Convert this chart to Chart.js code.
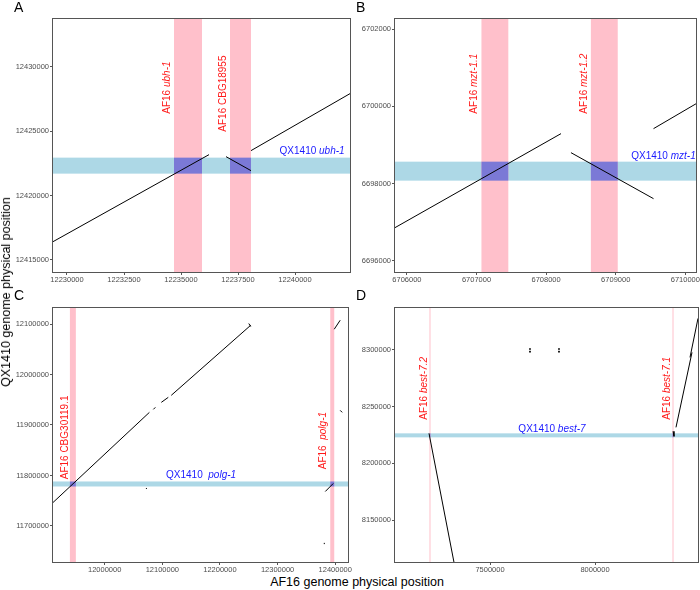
<!DOCTYPE html>
<html>
<head>
<meta charset="utf-8">
<title>Dot plots</title>
<script src="https://cdn.jsdelivr.net/npm/chart.js@4.4.1/dist/chart.umd.min.js"></script>
<style>
  body { margin: 0; background: #fff; font-family: "Liberation Sans", Arial, sans-serif; }
  #wrap { position: relative; width: 700px; height: 590px; }
  .pane { position: absolute; }
  .tag { position: absolute; font-size: 14px; color: #000; }
  .ytitle { position: absolute; left: 6px; top: 292px; font-size: 12.5px; color: #000; white-space: nowrap;
            transform: translate(-50%, -50%) rotate(-90deg); }
  .xtitle { position: absolute; left: 357px; top: 582px; font-size: 12.5px; color: #000; white-space: nowrap;
            transform: translate(-50%, -50%); }
</style>
</head>
<body>
<div id="wrap">
  <div class="pane" style="left:0;top:0;width:352px;height:285px"><canvas id="pa"></canvas></div>
  <div class="pane" style="left:352px;top:0;width:348px;height:285px"><canvas id="pb"></canvas></div>
  <div class="pane" style="left:0;top:290px;width:352px;height:285px"><canvas id="pc"></canvas></div>
  <div class="pane" style="left:352px;top:290px;width:348px;height:285px"><canvas id="pd"></canvas></div>
  <div class="tag" style="left:14px;top:-1px">A</div>
  <div class="tag" style="left:356px;top:-1px">B</div>
  <div class="tag" style="left:14px;top:287px">C</div>
  <div class="tag" style="left:356px;top:287px">D</div>
  <div class="ytitle">QX1410 genome physical position</div>
  <div class="xtitle">AF16 genome physical position</div>
</div>
<script>
// ---- panel A: ubh-1
var aXTicks = [12230000, 12232500, 12235000, 12237500, 12240000];
var aYTicks = [12415000, 12420000, 12425000, 12430000];
var aPink = [[12234693, 12235921], [12237149, 12238070]];
var aBlue = [12421711, 12422955];
var aSegs = [
  [12229386, 12416423, 12236228, 12423188],
  [12236974, 12423033, 12238070, 12421944],
  [12238070, 12423500, 12242412, 12427930]
];

// ---- panel B: mzt-1
var bXTicks = [6706000, 6707000, 6708000, 6709000, 6710000];
var bYTicks = [6696000, 6698000, 6700000, 6702000];
var bPink = [[6707071, 6707457], [6708643, 6709029]];
var bBlue = [6698078, 6698569];
var bSegs = [
  [6705829, 6696862, 6708214, 6699294],
  [6708357, 6698802, 6709543, 6697612],
  [6709543, 6699423, 6710157, 6700070]
];

// ---- panel C: polg-1
var cXTicks = [12000000, 12100000, 12200000, 12300000, 12400000];
var cYTicks = [11700000, 11800000, 11900000, 12000000, 12100000];
var cPink = [[11939655, 11950000], [12391379, 12398275]];
var cBlue = [11778175, 11788095];
var cSegs = [
  [11910345, 11746429, 12077586, 11925000],
  [12084483, 11930952, 12087931, 11934921],
  [12098276, 11944841, 12110345, 11954762],
  [12115517, 11958730, 12253448, 12097619],
  [12250000, 12101000, 12253448, 12095000],
  [12398276, 12089683, 12408621, 12107540],
  [12408621, 11928968, 12412069, 11925000],
  [12382759, 11768254, 12396552, 11784127],
  [12381034, 11664000, 12381034, 11666500],
  [12072414, 11773200, 12072414, 11775200]
];

// ---- panel D: best-7
var dXTicks = [7500000, 8000000];
var dYTicks = [8150000, 8200000, 8250000, 8300000];
var dPink = [[7213000, 7215500], [8370200, 8372700]];
var dBlue = [8222928, 8226455];
var dSegs = [
  [7209524, 8226455, 7328571, 8112698],
  [8371429, 8228219, 8376190, 8223810],
  [8385714, 8231746, 8461905, 8297884],
  [8452381, 8293474, 8490476, 8327866],
  [7690476, 8301411, 7690476, 8300300],
  [7690476, 8299200, 7690476, 8297884],
  [7828571, 8301411, 7828571, 8300300],
  [7828571, 8299200, 7828571, 8297884]
];

var PINK = '#ffc0cb', BLUE = '#add8e6', BOTH = '#7b79d6';
var FONT = '"Liberation Sans", Arial, sans-serif';

function drawParts(ctx, parts, cx, cy, rotate, color) {
  ctx.save();
  ctx.translate(cx, cy);
  if (rotate) ctx.rotate(-Math.PI / 2);
  ctx.fillStyle = color;
  ctx.textBaseline = 'middle';
  ctx.textAlign = 'left';
  var w = 0;
  parts.forEach(function (p) {
    ctx.font = (p[1] ? 'italic ' : '') + '10px ' + FONT;
    w += ctx.measureText(p[0]).width;
  });
  var x = -w / 2;
  parts.forEach(function (p) {
    ctx.font = (p[1] ? 'italic ' : '') + '10px ' + FONT;
    ctx.fillText(p[0], x, 0);
    x += ctx.measureText(p[0]).width;
  });
  ctx.restore();
}

function panelPlugin(cfg) {
  return {
    id: 'panel_' + cfg.id,
    beforeDatasetsDraw: function (chart) {
      var ctx = chart.ctx, a = chart.chartArea, xs = chart.scales.x, ys = chart.scales.y;
      ctx.save();
      ctx.beginPath();
      ctx.rect(a.left, a.top, a.right - a.left, a.bottom - a.top);
      ctx.clip();
      var by0 = ys.getPixelForValue(cfg.blue[1]), by1 = ys.getPixelForValue(cfg.blue[0]);
      ctx.fillStyle = BLUE;
      ctx.fillRect(a.left, by0, a.right - a.left, by1 - by0);
      cfg.pink.forEach(function (b) {
        var p0 = xs.getPixelForValue(b[0]), p1 = xs.getPixelForValue(b[1]);
        if (p1 - p0 < 1) { var c = (p0 + p1) / 2; p0 = c - 0.5; p1 = c + 0.5; }
        ctx.fillStyle = PINK;
        ctx.fillRect(p0, a.top, p1 - p0, a.bottom - a.top);
        ctx.fillStyle = BOTH;
        ctx.fillRect(p0, by0, p1 - p0, by1 - by0);
      });
      ctx.restore();
    },
    afterDatasetsDraw: function (chart) {
      var ctx = chart.ctx, xs = chart.scales.x, ys = chart.scales.y;
      cfg.vLabels.forEach(function (l) {
        drawParts(ctx, l.parts, xs.getPixelForValue(l.x), ys.getPixelForValue(l.y), true, '#ff1a1a');
      });
      var h = cfg.hLabel;
      drawParts(ctx, h.parts, xs.getPixelForValue(h.x), ys.getPixelForValue(h.y), false, '#1a1aff');
    },
    afterDraw: function (chart) {
      var ctx = chart.ctx, a = chart.chartArea;
      ctx.save();
      ctx.strokeStyle = '#555';
      ctx.lineWidth = 1;
      ctx.strokeRect(Math.round(a.left) - 0.5, Math.round(a.top) - 0.5,
        Math.round(a.right - a.left) + 1, Math.round(a.bottom - a.top) + 1);
      ctx.restore();
    }
  };
}

function makePanel(cfg) {
  var datasets = cfg.segs.map(function (s) {
    return {
      data: [{ x: s[0], y: s[1] }, { x: s[2], y: s[3] }],
      showLine: true, borderColor: '#000', borderWidth: 1,
      pointRadius: 0, pointHoverRadius: 0
    };
  });
  function axis(min, max, ticks, fitFn, pad) {
    return {
      type: 'linear', min: min, max: max,
      afterBuildTicks: function (sc) { sc.ticks = ticks.map(function (v) { return { value: v }; }); },
      afterFit: fitFn,
      grid: { display: true, drawOnChartArea: false, drawTicks: true, tickLength: 3, color: '#555' },
      border: { display: false },
      ticks: {
        autoSkip: false, maxRotation: 0, padding: pad, color: '#4d4d4d',
        font: { size: 7.5, family: FONT },
        callback: function (v) { return String(v); }
      }
    };
  }
  new Chart(document.getElementById(cfg.id), {
    type: 'scatter',
    data: { datasets: datasets },
    options: {
      responsive: true, maintainAspectRatio: false, animation: false,
      layout: { padding: { top: cfg.padTop, right: 2, left: 0, bottom: 0 } },
      plugins: { legend: { display: false }, tooltip: { enabled: false } },
      scales: {
        x: axis(cfg.xMin, cfg.xMax, cfg.xTicks, function (sc) { sc.height = 13; }, 0),
        y: axis(cfg.yMin, cfg.yMax, cfg.yTicks, function (sc) { sc.width = cfg.yW; }, 1)
      }
    },
    plugins: [panelPlugin(cfg)]
  });
}

makePanel({
  id: 'pa', padTop: 19, yW: 53,
  xMin: 12229386, xMax: 12242412, yMin: 12414067, yMax: 12433730,
  xTicks: aXTicks, yTicks: aYTicks, pink: aPink, blue: aBlue, segs: aSegs,
  vLabels: [
    { x: 12234386, y: 12428398, parts: [['AF16 ', false], ['ubh-1', true]] },
    { x: 12236842, y: 12427932, parts: [['AF16 CBG18955', false]] }
  ],
  hLabel: { x: 12240750, y: 12423422, parts: [['QX1410 ', false], ['ubh-1', true]] }
});

makePanel({
  id: 'pb', padTop: 19, yW: 43,
  xMin: 6705829, xMax: 6710157, yMin: 6695715, yMax: 6702259,
  xTicks: bXTicks, yTicks: bYTicks, pink: bPink, blue: bBlue, segs: bSegs,
  vLabels: [
    { x: 6706971, y: 6700587, parts: [['AF16 ', false], ['mzt-1.1', true]] },
    { x: 6708543, y: 6700587, parts: [['AF16 ', false], ['mzt-1.2', true]] }
  ],
  hLabel: { x: 6709686, y: 6698699, parts: [['QX1410 ', false], ['mzt-1', true]] }
});

makePanel({
  id: 'pc', padTop: 18, yW: 53,
  xMin: 11910345, xMax: 12422414, yMin: 11628571, yMax: 12131746,
  xTicks: cXTicks, yTicks: cYTicks, pink: cPink, blue: cBlue, segs: cSegs,
  vLabels: [
    { x: 11931034, y: 11875397, parts: [['AF16 CBG30119.1', false]] },
    { x: 12379310, y: 11869048, parts: [['AF16  ', false], ['polg-1', true]] }
  ],
  hLabel: { x: 12167241, y: 11800000, parts: [['QX1410  ', false], ['polg-1', true]] }
});

makePanel({
  id: 'pd', padTop: 18, yW: 43,
  xMin: 7047619, xMax: 8490476, yMin: 8112963, yMax: 8337037,
  xTicks: dXTicks, yTicks: dYTicks, pink: dPink, blue: dBlue, segs: dSegs,
  vLabels: [
    { x: 7185714, y: 8266138, parts: [['AF16 ', false], ['best-7.2', true]] },
    { x: 8342857, y: 8266138, parts: [['AF16 ', false], ['best-7.1', true]] }
  ],
  hLabel: { x: 7795238, y: 8229982, parts: [['QX1410 ', false], ['best-7', true]] }
});
</script>
</body>
</html>
